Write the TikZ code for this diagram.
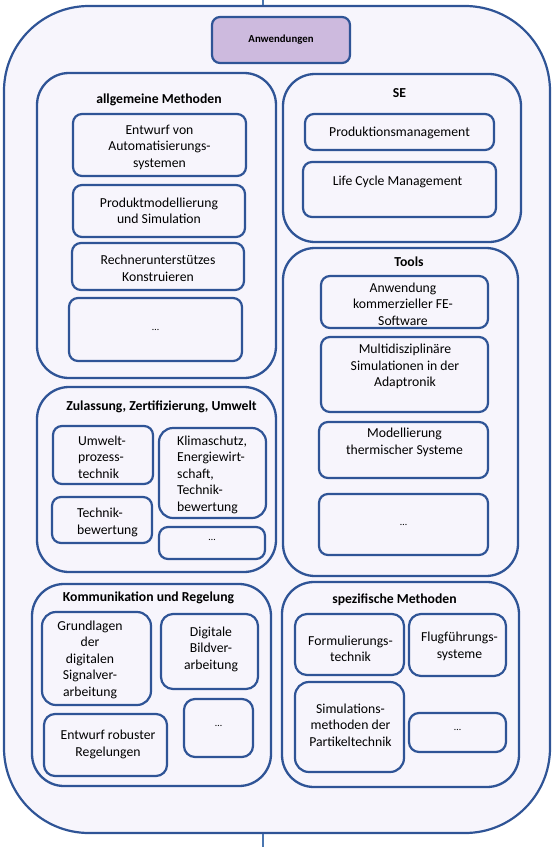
\documentclass[tikz,border=0pt]{standalone}
\usepackage{fontspec}
\setmainfont{Carlito}
\definecolor{bord}{RGB}{47,84,150}
\definecolor{fillc}{RGB}{247,245,252}
\definecolor{anwc}{RGB}{205,186,222}
\definecolor{connc}{RGB}{74,118,176}
\begin{document}
\begin{tikzpicture}[x=1pt,y=-1pt,
  grp/.style={draw=bord, line width=2.3pt, fill=fillc, rounded corners=32pt, inner sep=0pt},
  bx/.style={draw=bord, line width=2.2pt, fill=fillc, rounded corners=9pt, inner sep=0pt},
  txt/.style={inner sep=0pt, align=center, font=\fontsize{13.7}{16.5}\selectfont},
  ltxt/.style={txt, align=left},
  ttl/.style={inner sep=0pt, font=\bfseries\fontsize{13.7}{16.5}\selectfont},
  dots/.style={inner sep=0pt, font=\fontsize{10}{12}\selectfont},
  conn/.style={draw=connc, line width=2pt}]
\useasboundingbox (0,0) rectangle (552,847);

% outer frame and connectors
\node[bx, rounded corners=85pt, minimum width=546pt, minimum height=827pt] (outer) at (277,419.5) {};
\coordinate (topend) at (263,0);
\coordinate (botend) at (263,847);
\draw[conn] (topend) -- (topend |- outer.north);
\draw[conn] (botend) -- (botend |- outer.south);

\node[bx, fill=anwc, rounded corners=8pt, minimum width=138pt, minimum height=46pt,
  font=\bfseries\fontsize{10.8}{13}\selectfont] (anw) at (281,40) {Anwendungen};

% ---- allgemeine Methoden
\node[grp, minimum width=239pt, minimum height=305pt] (gA) at (156.5,225.5) {};
\node[ttl] (gAt) at (159,100) {allgemeine Methoden};
\node[bx, minimum width=173pt, minimum height=62pt] (a1) at (159.5,145) {};
\node[txt] (a1t) at (159.5,147) {Entwurf von\\Automatisierungs-\\systemen};
\node[bx, minimum width=172pt, minimum height=52pt] (a2) at (159,211) {};
\node[txt] (a2t) at (159,211) {Produktmodellierung\\und Simulation};
\node[bx, minimum width=172pt, minimum height=47pt] (a3) at (158,266.5) {};
\node[txt] (a3t) at (158,268.5) {Rechnerunterstützes\\Konstruieren};
\node[bx, minimum width=173pt, minimum height=63pt] (a4) at (155.5,329.5) {};
\node[dots] (a4t) at (155.5,329.5) {…};

% ---- SE
\node[grp, minimum width=238pt, minimum height=168pt] (gS) at (402,158) {};
\node[ttl] (gSt) at (399.5,93) {SE};
\node[bx, minimum width=189pt, minimum height=36pt] (s1) at (399.5,132) {};
\node[txt] (s1t) at (399.5,133) {Produktionsmanagement};
\node[bx, minimum width=193pt, minimum height=55pt] (s2) at (399.5,189.5) {};
\node[txt] (s2t) at (397.5,182) {Life Cycle Management};

% ---- Tools
\node[grp, minimum width=235pt, minimum height=328pt] (gT) at (400.5,412) {};
\node[ttl] (gTt) at (409,262) {Tools};
\node[bx, minimum width=167pt, minimum height=52pt] (t1) at (404.5,302) {};
\node[txt] (t1t) at (403,304) {Anwendung\\kommerzieller FE-\\Software};
\node[bx, minimum width=167pt, minimum height=75pt] (t2) at (404.5,374.5) {};
\node[txt] (t2t) at (405,366.5) {Multidisziplinäre\\Simulationen in der\\Adaptronik};
\node[bx, minimum width=169pt, minimum height=56pt] (t3) at (403.5,450) {};
\node[txt] (t3t) at (404.5,442.5) {Modellierung\\thermischer Systeme};
\node[bx, minimum width=169pt, minimum height=61pt] (t4) at (403.5,524.5) {};
\node[dots] (t4t) at (403.5,525) {…};

% ---- Zulassung
\node[grp, minimum width=239pt, minimum height=185pt] (gZ) at (156.5,479.5) {};
\node[ttl] (gZt) at (161.5,407) {Zulassung, Zertifizierung, Umwelt};
\node[bx, minimum width=100pt, minimum height=58pt] (z1) at (103,455) {};
\node[ltxt, anchor=west] (z1t) at (78,457) {Umwelt-\\prozess-\\technik};
\node[bx, rounded corners=14pt, minimum width=107pt, minimum height=90pt] (z2) at (212.5,473) {};
\node[ltxt, anchor=west] (z2t) at (177,474.5) {Klimaschutz,\\Energiewirt-\\schaft,\\Technik-\\bewertung};
\node[bx, minimum width=100pt, minimum height=46pt] (z3) at (102,520) {};
\node[ltxt, anchor=west] (z3t) at (77,522.5) {Technik-\\bewertung};
\node[bx, minimum width=106pt, minimum height=32pt] (z4) at (212,543) {};
\node[dots] (z4t) at (212,540) {…};

% ---- Kommunikation und Regelung
\node[grp, minimum width=239pt, minimum height=202pt] (gK) at (151.5,685) {};
\node[ttl] (gKt) at (148.5,598) {Kommunikation und Regelung};
\node[bx, rounded corners=14pt, minimum width=109pt, minimum height=93pt] (k1) at (96.5,658.5) {};
\node[txt] (k1t) at (90,659.5) {Grundlagen\\der\\digitalen\\Signalver-\\arbeitung};
\node[bx, rounded corners=12pt, minimum width=97pt, minimum height=75pt] (k2) at (209.5,651.5) {};
\node[txt] (k2t) at (211,649) {Digitale\\Bildver-\\arbeitung};
\node[bx, rounded corners=11pt, minimum width=69pt, minimum height=58pt] (k3) at (218.5,728) {};
\node[dots] (k3t) at (218.5,726) {…};
\node[bx, rounded corners=11pt, minimum width=123pt, minimum height=62pt] (k4) at (105.5,745) {};
\node[txt] (k4t) at (108,744.5) {Entwurf robuster\\Regelungen};

% ---- spezifische Methoden
\node[grp, minimum width=237pt, minimum height=205pt] (gP) at (400.5,684.5) {};
\node[ttl] (gPt) at (394.5,600) {spezifische Methoden};
\node[bx, rounded corners=12pt, minimum width=109pt, minimum height=61pt] (p1) at (349.5,644.5) {};
\node[txt] (p1t) at (350.5,649) {Formulierungs-\\technik};
\node[bx, rounded corners=12pt, minimum width=97pt, minimum height=62pt] (p2) at (457.5,645) {};
\node[txt] (p2t) at (459.5,646.5) {Flugführungs-\\systeme};
\node[bx, rounded corners=14pt, minimum width=109pt, minimum height=90pt] (p3) at (349.5,727) {};
\node[txt] (p3t) at (350.5,725) {Simulations-\\methoden der\\Partikeltechnik};
\node[bx, rounded corners=10pt, minimum width=97pt, minimum height=39pt] (p4) at (457.5,732.5) {};
\node[dots] (p4t) at (457.5,730) {…};
\end{tikzpicture}
\end{document}
